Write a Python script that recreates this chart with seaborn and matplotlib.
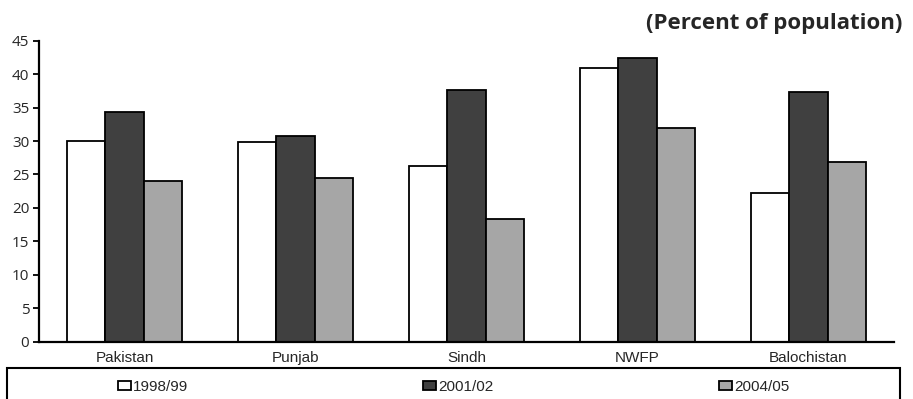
import matplotlib
matplotlib.use("Agg")
import matplotlib.pyplot as plt
from matplotlib.patches import Rectangle
import seaborn as sns
import pandas as pd

regions = ["Pakistan", "Punjab", "Sindh", "NWFP", "Balochistan"]
years = ["1998/99", "2001/02", "2004/05"]
poverty_1998 = [30.0, 29.9, 26.3, 40.9, 22.2]
poverty_2001 = [34.4, 30.8, 37.6, 42.4, 37.3]
poverty_2004 = [24.0, 24.4, 18.3, 32.0, 26.9]
colors = ["#ffffff", "#404040", "#a6a6a6"]
y_ticks = [0, 5, 10, 15, 20, 25, 30, 35, 40, 45]

df = pd.DataFrame({
    "region": regions * 3,
    "year": [years[0]] * 5 + [years[1]] * 5 + [years[2]] * 5,
    "value": poverty_1998 + poverty_2001 + poverty_2004,
})

sns.set_style("white")
label_font = ["Liberation Sans", "DejaVu Sans"]

W, H = 913, 399
fig = plt.figure(figsize=(W / 100, H / 100), dpi=100)
ax = fig.add_axes([39 / W, 1 - 341.7 / H, (894 - 39) / W, (341.7 - 40.7) / H])

sns.barplot(data=df, x="region", y="value", hue="year", order=regions,
            hue_order=years, palette=colors, width=0.67, edgecolor="black",
            linewidth=1.3, saturation=1, legend=True, ax=ax)

ax.set_xlim(-0.5, 4.5)
ax.set_ylim(0, 45)
ax.set_yticks(y_ticks)
ax.set_yticklabels([str(t) for t in y_ticks], fontsize=11, family="Open Sans")
ax.set_xlabel("")
ax.set_ylabel("")
ax.tick_params(axis="x", which="major", length=0, pad=7)
ax.set_xticks([i + 0.5 for i in range(-1, 5)], minor=True)
ax.tick_params(axis="x", which="minor", length=4, width=1.3, direction="out", color="black")
ax.tick_params(axis="y", length=4, width=1.3, direction="out", color="black", pad=3, left=True)
for lbl in ax.get_xticklabels():
    lbl.set_family(label_font)
    lbl.set_fontsize(11)
for side in ["top", "right"]:
    ax.spines[side].set_visible(False)
for side in ["left", "bottom"]:
    ax.spines[side].set_color("black")
    ax.spines[side].set_linewidth(1.6)

handles, labels = ax.get_legend_handles_labels()
ax.get_legend().remove()

# Legend strip along the bottom, running off the lower edge
fig.patches.append(Rectangle((7 / W, -10 / H), (900 - 7) / W, (H + 10 - 368) / H,
                             transform=fig.transFigure, fill=False,
                             edgecolor="black", linewidth=1.5))
entry_x = [118, 423, 719]
for h, lab, x in zip(handles, labels, entry_x):
    leg = fig.legend([h], [lab], loc="center left", frameon=False,
                     bbox_to_anchor=(x / W, 1 - 387 / H), borderpad=0,
                     borderaxespad=0, handlelength=0.85, handleheight=0.55,
                     handletextpad=0.15, prop={"family": label_font, "size": 11})
    for lh in leg.legend_handles:
        lh.set_edgecolor("black")
        lh.set_linewidth(1.3)

fig.text(902 / W, 1 - 23 / H, "(Percent of population)", ha="right", va="center",
         fontsize=16, fontweight="bold", family="Open Sans")

fig.savefig("out.png", dpi=100)
